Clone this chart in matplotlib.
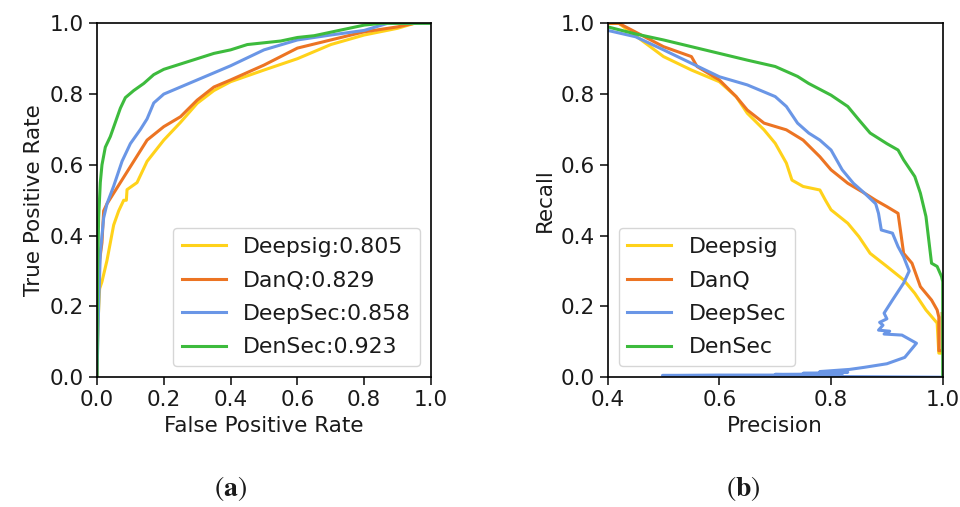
import numpy as np
import matplotlib
matplotlib.use("Agg")
import matplotlib.pyplot as plt

# ---- ROC curves (panel a) ----
models = ["Deepsig", "DanQ", "DeepSec", "DenSec"]
auc = [0.805, 0.829, 0.858, 0.923]
colors = ["#FFD21A", "#EC7423", "#6A96E6", "#3DBB3D"]

fpr_deepsig = [0.0, 0.003, 0.008, 0.015, 0.02, 0.03, 0.04, 0.05, 0.065, 0.08, 0.088, 0.09, 0.12, 0.15, 0.2, 0.25, 0.3, 0.35, 0.4, 0.5, 0.6, 0.7, 0.8, 0.9, 0.95, 1.0]
tpr_deepsig = [0.0, 0.15, 0.25, 0.27, 0.29, 0.33, 0.38, 0.43, 0.47, 0.5, 0.5, 0.53, 0.55, 0.61, 0.67, 0.72, 0.774, 0.81, 0.835, 0.868, 0.9, 0.94, 0.967, 0.986, 1.0, 1.0]

fpr_danq = [0.0, 0.003, 0.008, 0.015, 0.02, 0.03, 0.05, 0.1, 0.15, 0.2, 0.25, 0.3, 0.35, 0.4, 0.5, 0.6, 0.7, 0.8, 0.9, 0.95, 1.0]
tpr_danq = [0.0, 0.2, 0.33, 0.38, 0.47, 0.49, 0.52, 0.595, 0.67, 0.708, 0.736, 0.783, 0.82, 0.84, 0.882, 0.93, 0.953, 0.976, 0.99, 1.0, 1.0]

fpr_deepsec = [0.0, 0.002, 0.005, 0.01, 0.02, 0.03, 0.05, 0.075, 0.1, 0.13, 0.15, 0.17, 0.2, 0.25, 0.3, 0.4, 0.5, 0.6, 0.7, 0.8, 0.87, 1.0]
tpr_deepsec = [0.0, 0.08, 0.2, 0.35, 0.45, 0.49, 0.54, 0.61, 0.66, 0.7, 0.73, 0.775, 0.8, 0.82, 0.84, 0.88, 0.925, 0.953, 0.967, 0.98, 1.0, 1.0]

fpr_densec = [0.0, 0.002, 0.005, 0.01, 0.015, 0.025, 0.04, 0.055, 0.07, 0.085, 0.11, 0.14, 0.17, 0.2, 0.25, 0.3, 0.35, 0.4, 0.45, 0.5, 0.55, 0.6, 0.65, 0.7, 0.75, 0.8, 0.85, 1.0]
tpr_densec = [0.0, 0.3, 0.45, 0.55, 0.6, 0.65, 0.68, 0.72, 0.76, 0.79, 0.81, 0.83, 0.855, 0.87, 0.885, 0.9, 0.915, 0.925, 0.94, 0.945, 0.95, 0.96, 0.965, 0.975, 0.985, 0.995, 1.0, 1.0]

# ---- Precision-recall curves (panel b) ----
prec_deepsig = [0.4, 0.42, 0.5, 0.55, 0.6, 0.63, 0.65, 0.68, 0.7, 0.72, 0.73, 0.75, 0.78, 0.79, 0.8, 0.83, 0.85, 0.87, 0.9, 0.93, 0.95, 0.97, 0.99, 0.993, 0.998]
rec_deepsig = [1.0, 1.0, 0.906, 0.868, 0.835, 0.793, 0.746, 0.699, 0.661, 0.605, 0.557, 0.539, 0.529, 0.5, 0.473, 0.435, 0.397, 0.35, 0.313, 0.275, 0.237, 0.19, 0.153, 0.068, 0.068]

prec_danq = [0.4, 0.42, 0.5, 0.55, 0.56, 0.6, 0.63, 0.65, 0.68, 0.72, 0.75, 0.78, 0.8, 0.83, 0.86, 0.88, 0.9, 0.92, 0.925, 0.93, 0.945, 0.96, 0.98, 0.99, 0.993, 0.993, 0.999, 0.999]
rec_danq = [1.0, 1.0, 0.934, 0.906, 0.878, 0.84, 0.793, 0.755, 0.718, 0.699, 0.67, 0.623, 0.586, 0.548, 0.52, 0.5, 0.482, 0.463, 0.407, 0.35, 0.322, 0.256, 0.218, 0.19, 0.17, 0.075, 0.075, 0.18]

prec_deepsec = [0.4, 0.45, 0.5, 0.55, 0.6, 0.65, 0.7, 0.72, 0.74, 0.76, 0.78, 0.8, 0.82, 0.84, 0.86, 0.88, 0.885, 0.89, 0.91, 0.92, 0.93, 0.94,
                0.93, 0.91, 0.895, 0.9, 0.887, 0.893, 0.885, 0.905, 0.895, 0.927, 0.953, 0.932, 0.9, 0.86, 0.833,
                0.78, 0.83, 0.75, 0.82, 0.7, 0.76, 0.6, 0.498, 1.0]
rec_deepsec = [0.98, 0.962, 0.925, 0.887, 0.849, 0.826, 0.793, 0.765, 0.718, 0.69, 0.67, 0.642, 0.586, 0.548, 0.52, 0.49, 0.463, 0.416, 0.407, 0.369, 0.34, 0.3,
               0.266, 0.218, 0.181, 0.165, 0.155, 0.147, 0.133, 0.13, 0.122, 0.119, 0.096, 0.056, 0.038, 0.028, 0.022,
               0.016, 0.014, 0.011, 0.009, 0.008, 0.006, 0.006, 0.005, 0.0]

prec_densec = [0.4, 0.45, 0.5, 0.55, 0.6, 0.65, 0.7, 0.74, 0.76, 0.8, 0.83, 0.85, 0.87, 0.9, 0.92, 0.93, 0.95, 0.96, 0.97, 0.975, 0.98, 0.99, 0.998, 1.0, 1.0]
rec_densec = [0.99, 0.97, 0.953, 0.934, 0.915, 0.896, 0.878, 0.85, 0.83, 0.797, 0.765, 0.727, 0.69, 0.66, 0.642, 0.614, 0.567, 0.52, 0.454, 0.388, 0.322, 0.313, 0.284, 0.27, 0.0]

roc_x = [fpr_deepsig, fpr_danq, fpr_deepsec, fpr_densec]
roc_y = [tpr_deepsig, tpr_danq, tpr_deepsec, tpr_densec]
pr_x = [prec_deepsig, prec_danq, prec_deepsec, prec_densec]
pr_y = [rec_deepsig, rec_danq, rec_deepsec, rec_densec]

fs = 15.5
plt.rcParams["font.family"] = "DejaVu Sans"
plt.rcParams["text.color"] = "#1a1a1a"
plt.rcParams["axes.labelcolor"] = "#1a1a1a"
plt.rcParams["xtick.color"] = "#1a1a1a"
plt.rcParams["ytick.color"] = "#1a1a1a"
plt.rcParams["mathtext.fontset"] = "stix"

fig = plt.figure(figsize=(9.6, 5.07), dpi=100)
ax1 = fig.add_axes([0.101, 0.256, 0.348, 0.698])
ax2 = fig.add_axes([0.633, 0.256, 0.349, 0.698])

for i in range(4):
    ax1.plot(roc_x[i], roc_y[i], color=colors[i], lw=2.2, label="%s:%.3f" % (models[i], auc[i]))
    ax2.plot(pr_x[i], pr_y[i], color=colors[i], lw=2.2, label=models[i])

ax1.set_xlim(0, 1)
ax1.set_ylim(0, 1)
ax1.set_xlabel("False Positive Rate", fontsize=fs)
ax1.set_ylabel("True Positive Rate", fontsize=fs)
ax1.legend(loc="lower right", fontsize=15.8, labelspacing=0.62)

ax2.set_xlim(0.4, 1)
ax2.set_ylim(0, 1)
ax2.set_xticks([0.4, 0.6, 0.8, 1.0])
ax2.set_xlabel("Precision", fontsize=fs)
ax2.set_ylabel("Recall", fontsize=fs)
ax2.legend(loc="lower left", fontsize=15.8, labelspacing=0.62)

for ax in (ax1, ax2):
    ax.tick_params(labelsize=fs, length=6, width=1.2)
    for s in ax.spines.values():
        s.set_linewidth(1.2)

fig.text(0.24, 0.022, r"$(\mathbf{a})$", fontsize=20, ha="center")
fig.text(0.774, 0.022, r"$(\mathbf{b})$", fontsize=20, ha="center")

fig.savefig("out.png", dpi=100)
